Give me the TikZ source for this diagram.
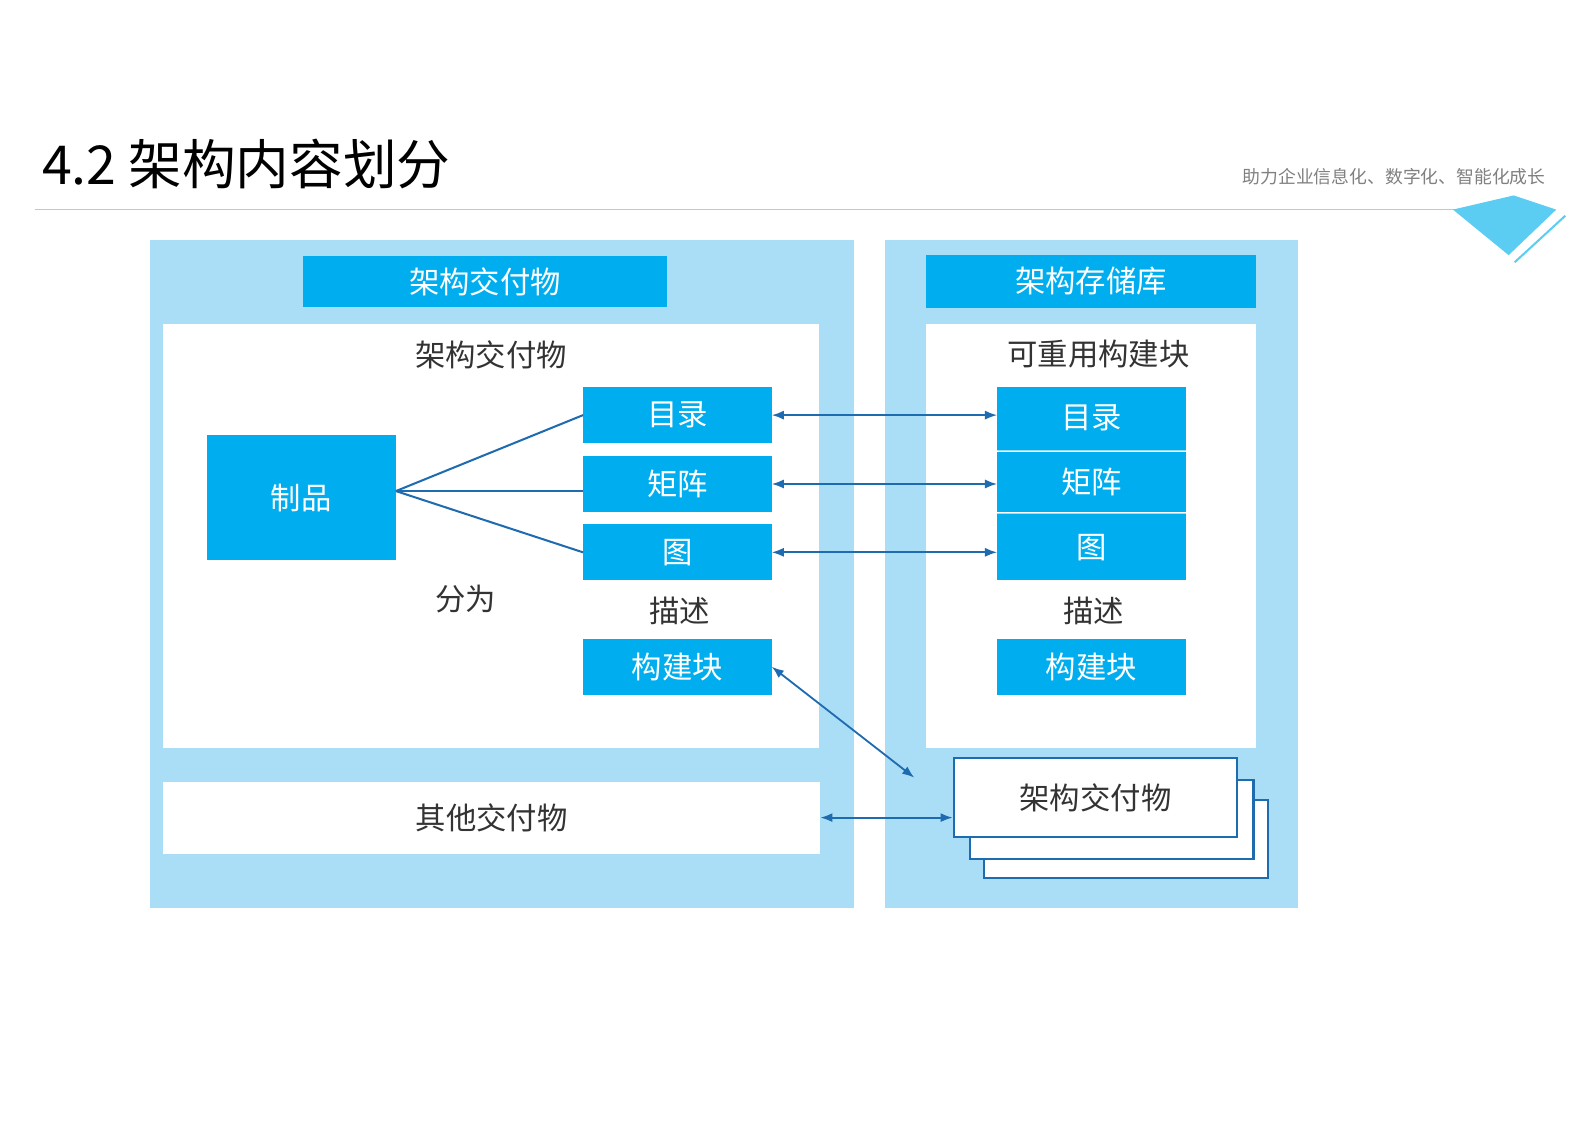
\documentclass[tikz,border=0pt]{standalone}
\usetikzlibrary{arrows.meta}
\usepackage{fontspec}
\setmainfont{Noto Sans CJK SC}
\begin{document}
\begin{tikzpicture}[x=1pt,y=-1pt,
  cyanbox/.style={fill=cyanc,draw=none,text=white,font=\fontsize{30}{33}\selectfont},
  lbl/.style={text=textc,font=\fontsize{30}{33}\selectfont},
  conn/.style={draw=lineb,line width=2pt},
  biarrow/.style={draw=lineb,line width=1.8pt,{Latex[length=12pt,width=9pt]}-{Latex[length=12pt,width=9pt]}},
  stackbox/.style={fill=white,draw=lineb,line width=2.2pt}]
\definecolor{cyanc}{HTML}{00AEEF}
\definecolor{lightb}{HTML}{AADEF6}
\definecolor{lineb}{HTML}{1F6BB0}
\definecolor{textc}{HTML}{333333}
\definecolor{tri}{HTML}{5BCDF2}
\useasboundingbox (0,0) rectangle (1567.4,1108.2);
\fill[white] (0,0) rectangle (1567.4,1108.2);
% header
\node[anchor=west,text=black,font=\fontsize{53}{58}\selectfont] (title) at (38,162) {4.2 架构内容划分};
\node[anchor=east,text=gray,font=\fontsize{17.6}{20}\selectfont] (sub) at (1530,175) {助力企业信息化、数字化、智能化成长};
\draw[tri!70,line width=1.2pt] (35,207) -- (1437,207);
\fill[tri] (1435,207) -- (1495,193) -- (1537,207) -- (1490,252) -- cycle;
\draw[tri,line width=2pt] (1546,213) -- (1496,259);
% panels
\fill[lightb] (148,237) rectangle (843,897);
\fill[lightb] (874,237) rectangle (1282,897);
\node[cyanbox,minimum width=360pt,minimum height=50pt] (h1) at (479,278) {架构交付物};
\node[cyanbox,minimum width=325pt,minimum height=52pt] (h2) at (1077.5,278) {架构存储库};
\fill[white] (161,320) rectangle (809,739);
\fill[white] (915,320) rectangle (1240,739);
\node[lbl] (t1) at (485,350) {架构交付物};
\node[lbl] (t2) at (1085,350) {可重用构建块};
% left contents
\node[cyanbox,minimum width=187pt,minimum height=123pt] (zp) at (297.5,491.5) {制品};
\node[cyanbox,minimum width=186pt,minimum height=55pt] (ml1) at (669,410) {目录};
\node[cyanbox,minimum width=186pt,minimum height=56pt] (jz1) at (669,478) {矩阵};
\node[cyanbox,minimum width=186pt,minimum height=55pt] (tu1) at (669,545.5) {图};
\node[lbl] (ms1) at (671,603) {描述};
\node[cyanbox,minimum width=186pt,minimum height=55pt] (gj1) at (669,658.5) {构建块};
\node[lbl] (fw) at (460,592) {分为};
\coordinate (zpr) at (391,485);
\draw[conn] (zpr) -- (ml1.west);
\draw[conn] (zpr) -- (jz1.west |- zpr);
\draw[conn] (zpr) -- (tu1.west);
% right contents
\node[cyanbox,minimum width=186pt,minimum height=62pt] (ml2) at (1078,413) {目录};
\node[cyanbox,minimum width=186pt,minimum height=60pt] (jz2) at (1078,476) {矩阵};
\node[cyanbox,minimum width=186pt,minimum height=65pt] (tu2) at (1078,540.5) {图};
\draw[white!60!cyanc,line width=0.8pt] (985,445) -- (1171,445) (985,507) -- (1171,507);
\node[lbl] (ms2) at (1080,603) {描述};
\node[cyanbox,minimum width=186pt,minimum height=55pt] (gj2) at (1078,658.5) {构建块};
% other deliverables
\node[fill=white,minimum width=649pt,minimum height=71pt,lbl] (other) at (485.5,807.5) {其他交付物};
% stack
\node[stackbox,minimum width=280pt,minimum height=77pt] (s3) at (1112,828.5) {};
\node[stackbox,minimum width=280pt,minimum height=78pt] (s2) at (1098,809) {};
\node[stackbox,minimum width=280pt,minimum height=78pt,lbl] (s1) at (1082,788) {架构交付物};
% arrows
\draw[biarrow] (ml1.east) -- (ml2.west |- ml1.east);
\draw[biarrow] (jz1.east) -- (jz2.west |- jz1.east);
\draw[biarrow] (tu1.east) -- (tu2.west |- tu1.east);
\coordinate (dg) at (903,768);
\draw[biarrow] (gj1.east) -- (dg);
\draw[biarrow] (other.east) -- (s1.west |- other.east);
\end{tikzpicture}
\end{document}
